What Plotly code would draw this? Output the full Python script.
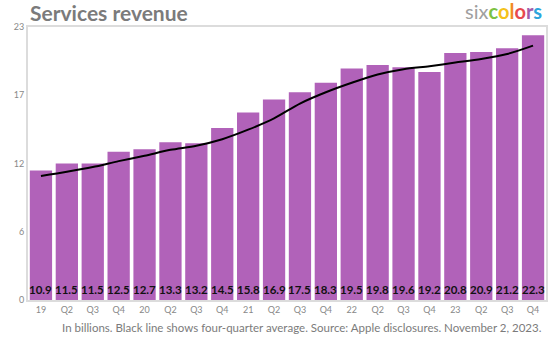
import plotly.graph_objects as go

# Quarterly Apple services revenue (billions of dollars)
quarters = ["19", "Q2", "Q3", "Q4", "20", "Q2", "Q3", "Q4", "21", "Q2",
            "Q3", "Q4", "22", "Q2", "Q3", "Q4", "23", "Q2", "Q3", "Q4"]
revenue = [10.9, 11.5, 11.5, 12.5, 12.7, 13.3, 13.2, 14.5, 15.8, 16.9,
           17.5, 18.3, 19.5, 19.8, 19.6, 19.2, 20.8, 20.9, 21.2, 22.3]
# Four-quarter average
four_q_avg = [10.45, 10.8, 11.2, 11.7, 12.15, 12.65, 13.0, 13.55, 14.35, 15.3,
              16.55, 17.5, 18.3, 19.0, 19.45, 19.7, 20.0, 20.3, 20.72, 21.43]
y_ticks = [0, 5.75, 11.5, 17.25, 23]
y_tick_text = ["0", "6", "12", "17", "23"]

x = list(range(len(quarters)))
BAR = "#b162b9"
GRAY = "#7b7b7b"
FONT = "Lato, 'Open Sans', sans-serif"

fig = go.Figure()
fig.add_trace(go.Bar(x=x, y=revenue, marker=dict(color=BAR, line=dict(width=0)),
                     width=0.86, hoverinfo="y"))
fig.add_trace(go.Scatter(x=x, y=four_q_avg, mode="lines",
                         line=dict(color="black", width=2, shape="spline", smoothing=0.8)))

# value labels along the bottom of each bar
for xi, v in zip(x, revenue):
    fig.add_annotation(x=xi, y=0, yref="y", text=f"<b>{v}</b>", showarrow=False,
                       yanchor="bottom", yshift=2,
                       font=dict(family=FONT, size=11.5, color="#111111"))

fig.add_annotation(x=0, xref="paper", y=1.0, yref="paper", xanchor="left", yanchor="bottom",
                   yshift=0, showarrow=False, text="<b>Services revenue</b>",
                   font=dict(family=FONT, size=21, color=GRAY))
fig.add_annotation(x=1.0, xref="paper", y=1.0, yref="paper", xanchor="right", yanchor="bottom",
                   yshift=2, xshift=-2, showarrow=False,
                   text=("<span style='color:#a0a0a0'>six</span>"
                         "<b><span style='color:#7cc242'>c</span>"
                         "<span style='color:#f4c21b'>o</span>"
                         "<span style='color:#f28a24'>l</span>"
                         "<span style='color:#e8484e'>o</span>"
                         "<span style='color:#a35bab'>r</span>"
                         "<span style='color:#2ca5dc'>s</span></b>"),
                   font=dict(family=FONT, size=20))
fig.add_annotation(x=0.5, xref="paper", y=0, yref="paper", xanchor="center", yanchor="top",
                   yshift=-19, xshift=15, showarrow=False,
                   text="In billions. Black line shows four-quarter average. Source: Apple disclosures. November 2, 2023.",
                   font=dict(family=FONT, size=11.5, color=GRAY))

fig.update_layout(
    width=550, height=337,
    margin=dict(l=28, r=2, t=27, b=37),
    paper_bgcolor="white", plot_bgcolor="white",
    showlegend=False, bargap=0.14,
    xaxis=dict(range=[-0.5, len(quarters) - 0.5], tickvals=x, ticktext=quarters,
               tickfont=dict(family=FONT, size=9, color="#888888"),
               showgrid=False, zeroline=False, showline=True, linecolor="#dcdcdc",
               linewidth=2, mirror=True, ticks="", fixedrange=True),
    yaxis=dict(range=[0, 23], tickvals=y_ticks, ticktext=y_tick_text,
               tickfont=dict(family=FONT, size=9, color="#888888"),
               showgrid=False, zeroline=False, showline=True, linecolor="#dcdcdc",
               linewidth=2, mirror=True, ticks="", fixedrange=True),
)

fig.write_html("out.html")
